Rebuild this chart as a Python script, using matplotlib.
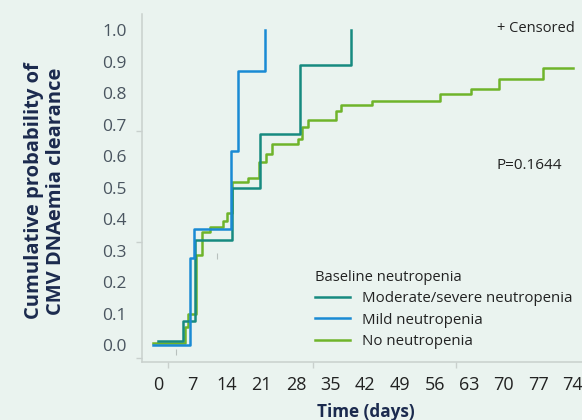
import matplotlib; matplotlib.use("Agg")
import matplotlib.pyplot as plt
from matplotlib.lines import Line2D

plt.rcParams['font.family'] = ['Open Sans', 'DejaVu Sans']

# data (days, cumulative probability)
mod_t = [1.1, 6.0, 8.4, 15.9, 21.7, 29.8, 40.1]
mod_p = [0.013, 0.077, 0.333, 0.5, 0.67, 0.889, 1.0]
mild_t = [0, 7.4, 8.2, 15.7, 17.3, 22.7]
mild_p = [0, 0.275, 0.367, 0.616, 0.871, 1.0]
no_t = [0, 6.5, 7.1, 8.8, 9.9, 11.5, 14.2, 15.0, 15.9, 19.3, 21.5, 22.9, 24.0,
        29.4, 30.1, 31.4, 37.0, 38.1, 44.4, 58.1, 64.4, 70.1, 79.0, 85.1]
no_p = [0.005, 0.058, 0.10, 0.286, 0.36, 0.375, 0.394, 0.42, 0.516, 0.531, 0.582,
        0.608, 0.637, 0.653, 0.693, 0.716, 0.744, 0.762, 0.775, 0.796, 0.814,
        0.844, 0.881, 0.881]
cens_t = [4.66, 12.9]
cens_p = [-0.022, 0.283]
groups = ["Moderate/severe neutropenia", "Mild neutropenia", "No neutropenia"]
colors = ["#178a80", "#1a8ad4", "#6fb42a"]
xlabels = ["0", "7", "14", "21", "28", "35", "42", "49", "56", "63", "70", "77", "74"]
ylabels = ["0.0", "0.1", "0.2", "0.3", "0.4", "0.5", "0.6", "0.7", "0.8", "0.9", "1.0"]

BG = "#eaf3ef"; NAVY = "#1b2a4e"
fig = plt.figure(figsize=(5.82, 4.2), dpi=100); fig.patch.set_facecolor(BG)
ax = fig.add_axes([142/582, 1-362/420, 440/582, 348/420]); ax.set_facecolor(BG)
ax.set_xlim(-2.23, 86.84); ax.set_ylim(-0.054, 1.051)

ax.step(no_t, no_p, where='post', color=colors[2], lw=1.8, zorder=3)
ax.step(mod_t, mod_p, where='post', color=colors[0], lw=1.8, zorder=4)
ax.step(mild_t, mild_p, where='post', color=colors[1], lw=1.8, zorder=5)
ax.plot(cens_t, cens_p, ls='none', marker='|', ms=4, mew=0.8, color='#b8c0bd', zorder=2)

for s in ['top', 'right']: ax.spines[s].set_visible(False)
for s in ['left', 'bottom']: ax.spines[s].set_color('#c9d0cd'); ax.spines[s].set_linewidth(1.1)

ax.set_yticks([i/10 for i in range(11)]); ax.set_yticklabels(ylabels)
ax.set_xticks([1 + 7*i for i in range(13)]); ax.set_xticklabels(xlabels)
ax.tick_params(axis='y', length=0, pad=11, labelsize=12.5, labelcolor='#4a5560')
ax.tick_params(axis='x', length=0, pad=10, labelsize=13, labelcolor='#222222')
ax.set_yticks([-0.041, 0.327, 0.68], minor=True)
ax.set_xticks([3.04, 32.4, 61.3], minor=True)
ax.tick_params(which='minor', length=4, width=1, color='#c9d0cd')

fig.text(45/582, 1-191/420, "Cumulative probability of\nCMV DNAemia clearance", rotation=90,
         ha='center', va='center', multialignment='center', fontsize=14.5,
         weight='bold', color=NAVY, linespacing=1.08)
fig.text(366/582, 1-412/420, "Time (days)", ha='center', va='center', fontsize=12.3,
         weight='bold', color=NAVY)
fig.text(497/582, 1-28/420, "+ Censored", ha='left', va='center', fontsize=10.5, color='#222222')
fig.text(496/582, 1-166/420, "P=0.1644", ha='left', va='center', fontsize=11, color='#222222')

handles = [Line2D([0], [0], color=c, lw=1.8) for c in colors]
leg = ax.legend(handles, groups, title="Baseline neutropenia", loc='upper left',
                bbox_to_anchor=(315/582, 1-270/420), bbox_transform=fig.transFigure,
                frameon=False, fontsize=10.8, title_fontsize=10.6, borderpad=0,
                borderaxespad=0, handlelength=2.3, handletextpad=0.82, labelspacing=0.42)
leg._legend_box.align = "left"
for t in leg.get_texts(): t.set_color('#222222')
leg.get_title().set_color('#222222')

fig.savefig("out.png", dpi=100, facecolor=BG)
